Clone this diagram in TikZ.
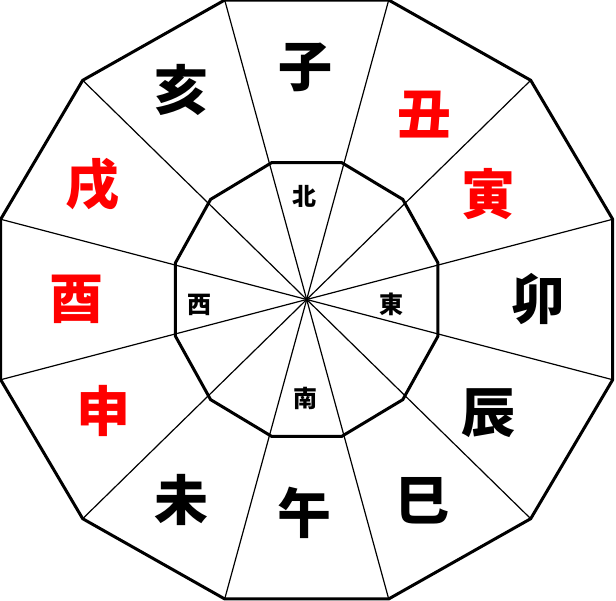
\documentclass[tikz,border=0pt]{standalone}
\usepackage{fontspec}
\newfontfamily\cjk{Noto Sans CJK JP}
\usepackage{tikz}

\begin{document}
\begin{tikzpicture}
    [x=.5pt, y=.5pt, line join=miter,
     spoke/.style={line width=.6pt},
     ring/.style={line width=1.5pt},
     branch/.style={font=\cjk\bfseries\fontsize{27pt}{27pt}\selectfont},
     compass/.style={font=\cjk\bfseries\fontsize{12pt}{12pt}\selectfont},
    ]
    \useasboundingbox (-306.7, -300.5) rectangle (309.3, 299.5);
    \coordinate (O) at (0, 0);
    \foreach \i in {1,...,12} {
        \coordinate (o\i) at ({30*\i-15}:316.8 and 310);
        \coordinate (n\i) at ({30*\i-15}:135.9 and 141.6);
    }

    % Spokes
    \foreach \i in {1,...,12}
        \draw[spoke] (O) -- (o\i);

    % Outer ring
    \draw[ring] (o1) \foreach \i in {2,...,12} { -- (o\i) } -- cycle;
    % Inner ring
    \draw[ring] (n1) \foreach \i in {2,...,12} { -- (n\i) } -- cycle;

    % Twelve branches
    \foreach \nm / \ch / \col / \bx / \by in
             {zi/子/black/-0.7/231.7, chou/丑/red/118/185,
              yin/寅/red/181.6/105, mao/卯/black/231.6/0,
              chen/辰/black/182/-113.3, si/巳/black/116/-201.7,
              wu/午/black/-1.7/-213.3, wei/未/black/-125/-200,
              shen/申/red/-203.4/-111.7, you/酉/red/-230/0,
              xu/戌/red/-214/115, hai/亥/black/-125/210} {
        \node[branch, text=\col] (\nm) at (\bx, \by) {\ch};
    }

    % Directions
    \node[compass] (north) at (-2.4, 103.3) {北};
    \node[compass] (east)  at (85, -5)      {東};
    \node[compass] (west)  at (-107.4, -5)  {西};
    \node[compass] (south) at (-0.7, -99.3) {南};
\end{tikzpicture}
\end{document}
